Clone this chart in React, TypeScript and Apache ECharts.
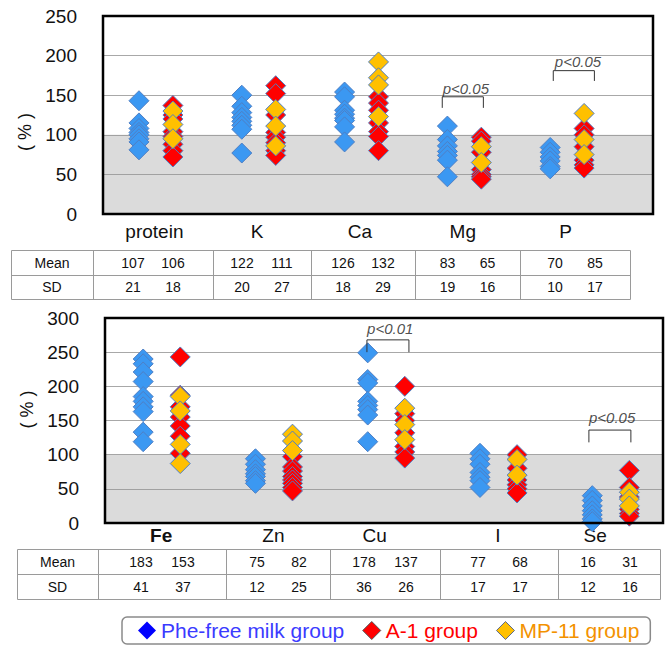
import React, { useEffect, useRef } from "react";
import * as echarts from "echarts";

// ---------- data ----------
const topCategories = ["protein", "K", "Ca", "Mg", "P"];
const topBlue = [
  [143, 115, 108, 103, 100, 95, 91, 81],
  [150, 136, 128, 122, 117, 112, 107, 77],
  [154, 148, 131, 126, 121, 118, 110, 91],
  [111, 94, 86, 79, 74, 68, 47],
  [84, 78, 72, 67, 60, 57],
];
const topRed = [
  [137, 125, 120, 104, 98, 88, 80, 72],
  [162, 152, 125, 103, 97, 90, 80, 74],
  [148, 140, 131, 115, 104, 98, 80],
  [97, 92, 78, 56, 50, 47, 44],
  [108, 100, 85, 68, 62, 58],
];
const topOrange = [
  [130, 113, 95],
  [132, 111, 86],
  [192, 172, 163, 123],
  [85, 65],
  [127, 94, 75],
];
const topMean = [[107, 106], [122, 111], [126, 132], [83, 65], [70, 85]];
const topSD = [[21, 18], [20, 27], [18, 29], [19, 16], [10, 17]];

const bottomCategories = ["Fe", "Zn", "Cu", "I", "Se"];
const bottomBlue = [
  [240, 233, 221, 207, 185, 178, 170, 163, 133, 119],
  [94, 86, 78, 72, 68, 62, 58],
  [249, 210, 205, 178, 172, 166, 158, 119],
  [102, 94, 86, 74, 67, 62, 52],
  [40, 33, 25, 18, 12, 6, 2],
];
const bottomRed = [
  [243, 187, 170, 155, 142, 127, 102],
  [97, 82, 76, 68, 63, 58, 52, 47],
  [200, 160, 150, 132, 112, 104, 95],
  [100, 80, 63, 56, 50, 44],
  [77, 52, 38, 20, 14, 10],
];
const bottomOrange = [
  [185, 164, 115, 87],
  [130, 120, 106],
  [168, 144, 122],
  [93, 70],
  [45, 35, 25],
];
const bottomMean = [[183, 153], [75, 82], [178, 137], [77, 68], [16, 31]];
const bottomSD = [[41, 37], [12, 25], [36, 26], [17, 17], [12, 16]];

const topBrackets = [
  { cat: 3, from: -0.2, to: 0.2, leg: 134, top: 148, textY: 158, textDx: 0.03, text: "p<0.05" },
  { cat: 4, from: -0.12, to: 0.28, leg: 168, top: 181, textY: 192, textDx: 0.04, text: "p<0.05" },
];
const bottomBrackets = [
  { cat: 2, from: -0.167, to: 0.207, leg: 250, top: 268, textY: 284, textDx: 0.02, text: "p<0.01" },
  { cat: 4, from: -0.19, to: 0.184, leg: 118, top: 136, textY: 154, textDx: 0.02, text: "p<0.05" },
];

const seriesNames = ["Phe-free milk group", "A-1 group", "MP-11 group"];

// ---------- styles ----------
const FONT = '"Liberation Sans", Arial, Helvetica, sans-serif';
const BLUE = "#3b98f2";
const RED = "#ff0000";
const ORANGE = "#ffc000";
const MARK_BORDER = "#4f7fc4";

function points(groups: number[][], off: number) {
  const out: number[][] = [];
  groups.forEach((g, i) => g.forEach((v) => out.push([i + off, v])));
  return out;
}

function scatter(name: string, data: number[][], color: string, axis: number, extra: any = {}) {
  return {
    type: "scatter",
    name,
    xAxisIndex: axis,
    yAxisIndex: axis,
    data,
    symbol: "diamond",
    symbolSize: 20,
    clip: false,
    itemStyle: { color, borderColor: MARK_BORDER, borderWidth: 1, opacity: 1 },
    emphasis: { disabled: true },
    ...extra,
  };
}

function bracketSeries(b: any, axis: number) {
  return [
    {
      type: "line",
      xAxisIndex: axis,
      yAxisIndex: axis,
      data: [
        [b.cat + b.from, b.leg],
        [b.cat + b.from, b.top],
        [b.cat + b.to, b.top],
        [b.cat + b.to, b.leg],
      ],
      symbol: "none",
      lineStyle: { color: "#333", width: 1 },
      silent: true,
      z: 5,
    },
    {
      type: "scatter",
      xAxisIndex: axis,
      yAxisIndex: axis,
      symbolSize: 0,
      silent: true,
      data: [{ value: [b.cat + (b.from + b.to) / 2 + b.textDx, b.textY], name: b.text }],
      label: {
        show: true,
        position: "inside",
        formatter: "{b}",
        fontStyle: "italic",
        fontSize: 15,
        fontFamily: FONT,
        color: "#222",
      },
    },
  ];
}

function tableGraphics(mean: number[][], sd: number[][], x0: number, x1: number, y0: number, y1: number, cols: number[], gap: number) {
  const els: any[] = [];
  const stroke = "#9a9a9a";
  const ym = (y0 + y1) / 2;
  els.push({ type: "rect", shape: { x: x0 + 0.5, y: y0 + 0.5, width: x1 - x0, height: y1 - y0 }, style: { fill: "none", stroke, lineWidth: 1 } });
  els.push({ type: "line", shape: { x1: x0, y1: Math.round(ym) + 0.5, x2: x1, y2: Math.round(ym) + 0.5 }, style: { stroke, lineWidth: 1 } });
  cols.forEach((c) => els.push({ type: "line", shape: { x1: c + 0.5, y1: y0, x2: c + 0.5, y2: y1 }, style: { stroke, lineWidth: 1 } }));
  const rowY = [(y0 + ym) / 2 + 0.5, (ym + y1) / 2 + 0.5];
  const txt = (t: string, x: number, y: number) => ({
    type: "text",
    x,
    y,
    style: { text: t, align: "center", verticalAlign: "middle", fill: "#111", fontSize: 14, fontFamily: FONT },
  });
  els.push(txt("Mean", (x0 + cols[0]) / 2, rowY[0]));
  els.push(txt("SD", (x0 + cols[0]) / 2, rowY[1]));
  const edges = [...cols, x1];
  for (let i = 0; i < mean.length; i++) {
    const cx = (edges[i] + edges[i + 1]) / 2;
    els.push(txt(String(mean[i][0]), cx - gap, rowY[0]));
    els.push(txt(String(mean[i][1]), cx + gap, rowY[0]));
    els.push(txt(String(sd[i][0]), cx - gap, rowY[1]));
    els.push(txt(String(sd[i][1]), cx + gap, rowY[1]));
  }
  return els;
}

function buildOption() {
  const grayArea = {
    silent: true,
    itemStyle: { color: "rgba(150,150,150,0.34)" },
    data: [[{ yAxis: 0 }, { yAxis: 100 }]],
  };
  const yAxisBase = (max: number, gridIndex: number, padding: number[]) => ({
    type: "value",
    gridIndex,
    min: 0,
    max,
    interval: 50,
    axisLine: { show: false },
    axisTick: { show: false },
    splitLine: { lineStyle: { color: "#a8a8a8", width: 1 } },
    axisLabel: { fontSize: 19, color: "#111", fontFamily: FONT, margin: 26 },
    name: "( % )",
    nameLocation: "middle",
    nameRotate: 90,
    nameGap: 64,
    nameTextStyle: { fontSize: 18, color: "#111", fontFamily: FONT, padding },
  });

  return {
    animation: false,
    textStyle: { fontFamily: FONT },
    grid: [
      { left: 103, top: 16, width: 550, height: 198, show: true, borderColor: "#000", borderWidth: 2.5, backgroundColor: "transparent", z: 3 },
      { left: 105, top: 318, width: 558, height: 205, show: true, borderColor: "#000", borderWidth: 2.5, backgroundColor: "transparent", z: 3 },
    ],
    xAxis: [
      {
        type: "value",
        gridIndex: 0,
        min: -0.5,
        max: 4.85,
        interval: 0.5,
        axisLine: { show: false },
        axisTick: { show: false },
        splitLine: { show: false },
        axisLabel: {
          fontSize: 19,
          color: "#111",
          fontFamily: FONT,
          margin: 8,
          showMinLabel: true,
          showMaxLabel: true,
          formatter: (v: number) => (Number.isInteger(v) && topCategories[v] ? topCategories[v] : ""),
        },
      },
      {
        type: "value",
        gridIndex: 1,
        min: -0.5,
        max: 4.47,
        interval: 0.5,
        axisLine: { show: false },
        axisTick: { show: false },
        splitLine: { show: false },
        axisLabel: {
          fontSize: 19,
          color: "#111",
          fontFamily: FONT,
          margin: 3,
          formatter: (v: number) => {
            if (!Number.isInteger(v) || !bottomCategories[v]) return "";
            const keys = ["fe", "n", "cu", "n", "se"];
            return "{" + keys[v] + "|" + bottomCategories[v] + "}";
          },
          rich: {
            fe: { fontSize: 19, fontWeight: "bold", color: "#111", fontFamily: FONT },
            n: { fontSize: 19, color: "#111", fontFamily: FONT },
            cu: { fontSize: 19, color: "#111", fontFamily: FONT, padding: [0, 22, 0, 0] },
            se: { fontSize: 19, color: "#111", fontFamily: FONT, padding: [0, 30, 0, 0] },
          },
        },
      },
    ],
    yAxis: [yAxisBase(250, 0, [0, 34, 0, 0]), yAxisBase(300, 1, [0, 0, 0, 22])],
    legend: {
      left: 122,
      top: 617,
      icon: "diamond",
      itemWidth: 18,
      itemHeight: 18,
      itemGap: 18,
      padding: [3, 11, 3, 16],
      borderColor: "#8a8a8a",
      borderWidth: 1.5,
      borderRadius: 5,
      textStyle: { fontSize: 21, fontFamily: FONT },
      selectedMode: false,
      data: [
        { name: seriesNames[0], itemStyle: { color: "#0000ff", borderColor: "#0000ff", borderWidth: 0 }, textStyle: { color: "#3b3bff" } },
        { name: seriesNames[1], itemStyle: { color: "#ff0000", borderColor: "#555", borderWidth: 1 }, textStyle: { color: "#ff0000" } },
        { name: seriesNames[2], itemStyle: { color: "#ffc000", borderColor: "#5a6a8a", borderWidth: 1 }, textStyle: { color: "#f39200" } },
      ],
    },
    graphic: [
      ...tableGraphics(topMean, topSD, 11, 630, 250, 299, [93, 213, 311, 415, 520], 20),
      ...tableGraphics(bottomMean, bottomSD, 17, 660, 549, 599, [98, 226, 330, 440, 558], 21),
    ],
    series: [
      scatter(seriesNames[0], points(topBlue, -0.15), BLUE, 0, { markArea: grayArea }),
      scatter(seriesNames[1], points(topRed, 0.18), RED, 0),
      scatter(seriesNames[2], points(topOrange, 0.18), ORANGE, 0),
      scatter(seriesNames[0], points(bottomBlue, -0.16), BLUE, 1, { markArea: grayArea }),
      scatter(seriesNames[1], points(bottomRed, 0.17), RED, 1),
      scatter(seriesNames[2], points(bottomOrange, 0.17), ORANGE, 1),
      ...topBrackets.flatMap((b) => bracketSeries(b, 0)),
      ...bottomBrackets.flatMap((b) => bracketSeries(b, 1)),
    ],
  };
}

export default function App() {
  const ref = useRef<HTMLDivElement>(null);
  useEffect(() => {
    if (!ref.current) return;
    const chart = echarts.init(ref.current, undefined, { renderer: "svg" });
    chart.setOption(buildOption() as any);
    return () => chart.dispose();
  }, []);
  return (
    <div
      ref={ref}
      style={{ position: "fixed", left: 0, top: 0, width: 666, height: 647, background: "#fff" }}
    />
  );
}
